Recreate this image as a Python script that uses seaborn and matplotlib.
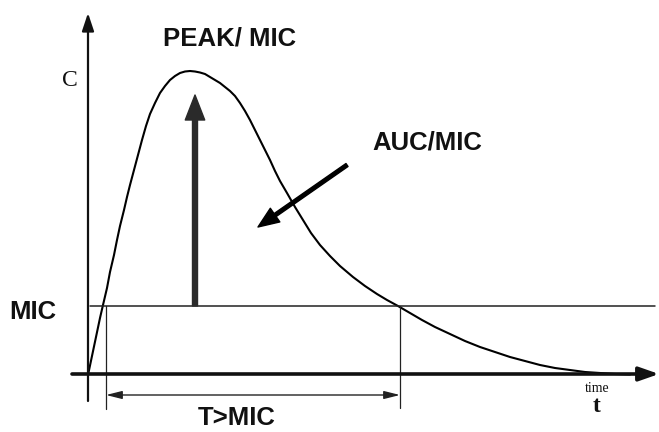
import matplotlib
matplotlib.use("Agg")
import matplotlib.pyplot as plt
import seaborn as sns
import pandas as pd

# ---- data (time units arbitrary, concentration units arbitrary) ----
time_points = [0, 4, 8, 12, 15, 19, 22, 26, 29, 32,
               36, 39, 42, 46, 50, 54, 58, 62, 67, 72,
               77, 82, 87, 92, 97, 102, 107, 112, 117, 122,
               127, 132, 137, 142, 147, 152, 157, 162, 167, 172,
               177, 182, 187, 192, 199, 207, 215, 223, 232, 242,
               252, 265, 277, 289, 299, 310, 322, 334, 347, 362,
               377, 392, 407, 422, 437, 452, 467, 482, 497, 512,
               527, 542]
conc_points = [0, 19, 38, 57, 70, 87, 103, 120, 135, 149,
               165, 178, 190, 205, 220, 235, 249, 261, 272, 282,
               289, 295, 299, 302, 303.5, 304, 303.5, 302.5, 301, 298,
               295, 292, 288, 284, 279, 272, 264, 255, 245, 235,
               225, 215, 204, 194, 182, 168, 155, 142, 130, 119,
               109, 98, 89, 81, 75, 69, 62, 55, 48, 41,
               34, 28, 23, 18, 14, 10, 7, 5, 3, 2,
               1, 0.5]
mic_level = 69
t_mic_start = 18
t_mic_end = 312
peak_time = 107
peak_conc = 280

label_peak = "PEAK/ MIC"
label_auc = "AUC/MIC"
label_mic = "MIC"
label_tmic = "T>MIC"
label_c = "C"
label_time = "time"
label_t = "t"

sns.set_theme(style="white")
plt.rcParams["font.family"] = ["Liberation Sans", "DejaVu Sans"]

fig = plt.figure(figsize=(6.59, 4.32), dpi=100)
ax = fig.add_axes([0, 0, 1, 1])
ax.set_xlim(-88, 571)
ax.set_ylim(-57, 375)
ax.axis("off")

df = pd.DataFrame({"time": time_points, "conc": conc_points})
sns.lineplot(data=df, x="time", y="conc", ax=ax, color="black", lw=1.5,
             sort=False, estimator=None)

# axes with arrows
ax.annotate("", xy=(0, 362), xytext=(0, -26),
            arrowprops=dict(arrowstyle="-|>,head_length=0.9,head_width=0.3",
                            color="#111111", lw=1.6, shrinkA=0, shrinkB=0))
ax.annotate("", xy=(571, 1), xytext=(-16, 1),
            arrowprops=dict(arrowstyle="-|>,head_length=1.0,head_width=0.35",
                            color="#111111", lw=2.6, shrinkA=0, shrinkB=0))

# MIC line
ax.plot([2, 567], [mic_level, mic_level], color="#222222", lw=1.1)

# T>MIC drop lines
ax.plot([t_mic_start, t_mic_start], [mic_level, -34], color="#222222", lw=0.9)
ax.plot([t_mic_end, t_mic_end], [mic_level, -33], color="#222222", lw=0.9)
ax.annotate("", xy=(t_mic_start, -20), xytext=(t_mic_end, -20),
            arrowprops=dict(arrowstyle="<|-|>,head_length=0.8,head_width=0.2",
                            color="#222222", lw=1.0, shrinkA=0, shrinkB=0))

# PEAK arrow
ax.annotate("", xy=(peak_time, peak_conc), xytext=(peak_time, mic_level),
            arrowprops=dict(width=3.6, headwidth=14, headlength=18,
                            facecolor="#2a2a2a", edgecolor="#2a2a2a",
                            shrink=0))

# AUC arrow
ax.annotate("", xy=(170, 148), xytext=(259, 210),
            arrowprops=dict(width=2.6, headwidth=12, headlength=15,
                            facecolor="black", edgecolor="black", shrink=0))

# texts
ax.text(142, 337, label_peak, ha="center", va="center", fontsize=18.5,
        fontweight="bold", color="#111111")
ax.text(339, 232, label_auc, ha="center", va="center", fontsize=18.5,
        fontweight="bold", color="#111111")
ax.text(-55, 63, label_mic, ha="center", va="center", fontsize=18.5,
        fontweight="bold", color="#111111")
ax.text(149, -43, label_tmic, ha="center", va="center", fontsize=18.5,
        fontweight="bold", color="#111111")
ax.text(-18, 295, label_c, ha="center", va="center", fontsize=17,
        family=["Liberation Serif", "DejaVu Serif"], color="#111111")
ax.text(509, -13, label_time, ha="center", va="center", fontsize=10,
        family=["Liberation Serif", "DejaVu Serif"], color="#111111")
ax.text(509, -31, label_t, ha="center", va="center", fontsize=17,
        fontweight="bold", family=["Liberation Serif", "DejaVu Serif"],
        color="#111111")

fig.savefig("out.png", dpi=100, facecolor="white")
